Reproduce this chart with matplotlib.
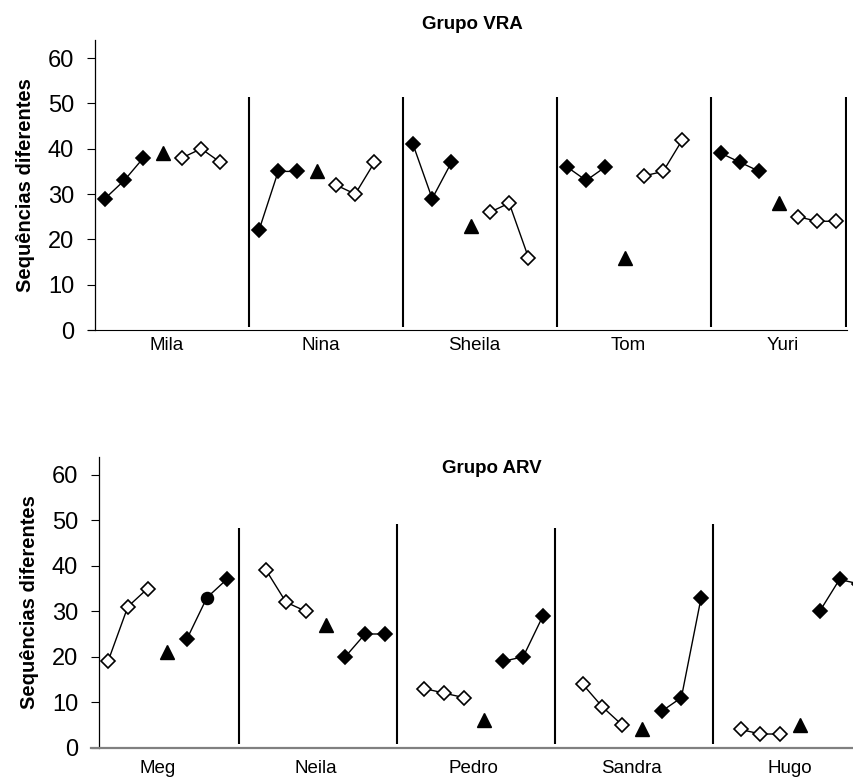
import matplotlib.pyplot as plt
import numpy as np

plt.rcParams["font.family"] = ["Liberation Sans", "DejaVu Sans"]

# Grupo VRA: three sessions of phase 1 (filled), one probe (triangle), three of phase 2 (open)
vra_names = ["Mila", "Nina", "Sheila", "Tom", "Yuri"]
vra_first = [[29, 33, 38], [22, 35, 35], [41, 29, 37], [36, 33, 36], [39, 37, 35]]
vra_probe = [39, 35, 23, 16, 28]
vra_second = [[38, 40, 37], [32, 30, 37], [26, 28, 16], [34, 35, 42], [25, 24, 24]]

# Grupo ARV: phase 1 open, probe, phase 2 filled
arv_names = ["Meg", "Neila", "Pedro", "Sandra", "Hugo"]
arv_first = [[19, 31, 35], [39, 32, 30], [13, 12, 11], [14, 9, 5], [4, 3, 3]]
arv_probe = [21, 27, 6, 4, 5]
arv_second = [[24, 33, 37], [20, 25, 25], [19, 20, 29], [8, 11, 33], [30, 37, 36]]
# Meg's middle session of phase 2 is marked with a circle
arv_second_markers = [["D", "o", "D"], ["D"] * 3, ["D"] * 3, ["D"] * 3, ["D"] * 3]

SLOT = 8  # positions per subject (7 sessions + gap)


def draw_phase(ax, xs, ys, filled, markers=None):
    ax.plot(xs, ys, "-", color="black", lw=1.0, zorder=2)
    if markers is None:
        markers = ["D"] * len(xs)
    for x, y, m in zip(xs, ys, markers):
        ms = 8.5 if m == "o" else 6.8
        ax.plot(x, y, m, ms=ms, mfc="black" if filled else "white",
                mec="black", mew=1.2, zorder=3)


def draw_group(ax, first, probe, second, names, first_filled, second_markers,
               label_off, sep_off, sep_tops, sep_bottom):
    for i in range(len(names)):
        x0 = i * SLOT
        draw_phase(ax, np.arange(x0, x0 + 3), first[i], first_filled)
        ax.plot(x0 + 3, probe[i], "^", color="black", ms=9.5, zorder=3)
        mk = second_markers[i] if second_markers else None
        draw_phase(ax, np.arange(x0 + 4, x0 + 7), second[i], not first_filled, mk)
    # subject separators
    for i, top in enumerate(sep_tops):
        ax.vlines(i * SLOT + sep_off, sep_bottom, top, color="black", lw=1.5, zorder=2)
    ax.set_xticks([i * SLOT + label_off for i in range(len(names))])
    ax.set_xticklabels(names, fontsize=13.5)
    ax.set_ylim(0, 64)
    ax.set_yticks(range(0, 61, 10))
    ax.tick_params(axis="y", labelsize=17, length=6, width=0.8, direction="out", pad=9)
    ax.spines["top"].set_visible(False)
    ax.spines["right"].set_visible(False)
    ax.spines["left"].set_linewidth(0.9)
    ax.spines["bottom"].set_clip_on(False)
    ax.set_ylabel("Sequências diferentes", fontsize=14.5, fontweight="bold", labelpad=9)


fig = plt.figure(figsize=(8.54, 7.78), dpi=100)

ax1 = fig.add_axes([0.1112, 0.5758, 0.8806, 0.3728])
draw_group(ax1, vra_first, vra_probe, vra_second, vra_names, True, None,
           3.2, 7.5, [51.5] * 4, 0.7)
ax1.set_xlim(-0.52, 38.55)
ax1.vlines(38.5, 0.7, 51.5, color="black", lw=1.5, zorder=2)
ax1.spines["bottom"].set_bounds(-0.9, 38.55)
ax1.tick_params(axis="x", length=0, pad=5)
fig.text(0.553, 0.969, "Grupo VRA", ha="center", va="center", fontsize=13.5, fontweight="bold")

ax2 = fig.add_axes([0.1159, 0.039, 0.925, 0.374])
draw_group(ax2, arv_first, arv_probe, arv_second, arv_names, False, arv_second_markers,
           2.5, 6.6, [48.3, 49.2, 48.3, 49.2], 0.8)
ax2.set_xlim(-0.46, 39.5)
ax2.spines["bottom"].set_bounds(-0.85, 39.5)
ax2.spines["bottom"].set_color("#808080")
ax2.spines["bottom"].set_linewidth(1.6)
ax2.tick_params(axis="x", length=0, pad=9)
fig.text(0.576, 0.398, "Grupo ARV", ha="center", va="center", fontsize=13.5, fontweight="bold")

fig.savefig("out.png", dpi=100)
